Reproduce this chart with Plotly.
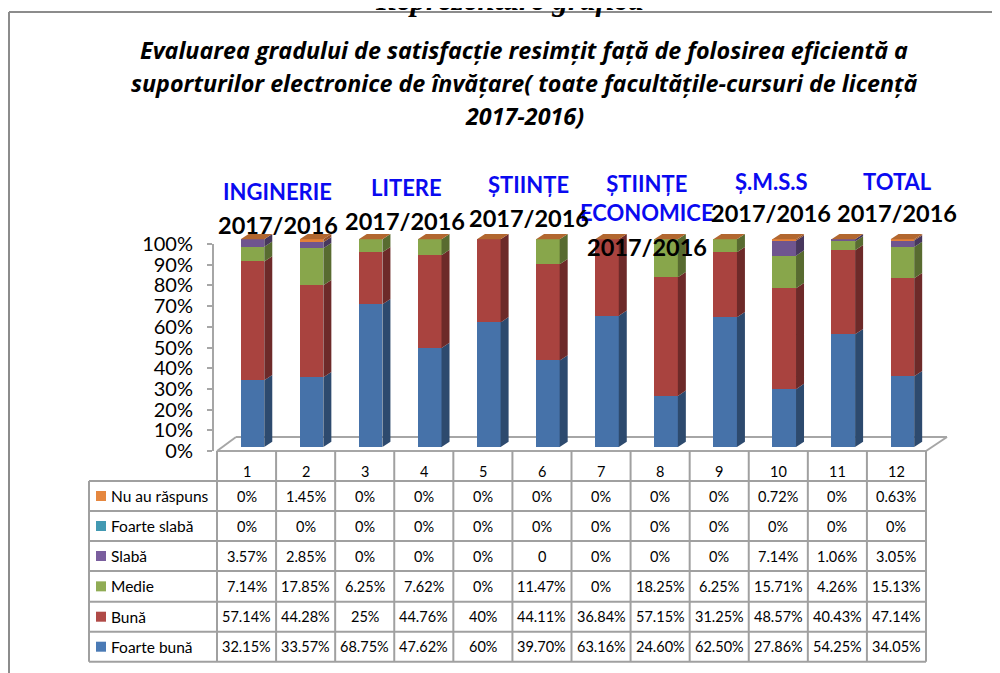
import plotly.graph_objects as go

W, H = 1000, 673
OFF = 8  # page body margin of the html page


def px(x):
    return (x - OFF) / W


def py(y):
    return 1 - (y - OFF) / H


# ---------------- DATA ----------------
columns = [str(i) for i in range(1, 13)]
series_names = ["Nu au răspuns", "Foarte slabă", "Slabă", "Medie", "Bună", "Foarte bună"]
nu_au_raspuns = ["0%", "1.45%", "0%", "0%", "0%", "0%", "0%", "0%", "0%", "0.72%", "0%", "0.63%"]
foarte_slaba = ["0%", "0%", "0%", "0%", "0%", "0%", "0%", "0%", "0%", "0%", "0%", "0%"]
slaba = ["3.57%", "2.85%", "0%", "0%", "0%", "0", "0%", "0%", "0%", "7.14%", "1.06%", "3.05%"]
medie = ["7.14%", "17.85%", "6.25%", "7.62%", "0%", "11.47%", "0%", "18.25%", "6.25%", "15.71%", "4.26%", "15.13%"]
buna = ["57.14%", "44.28%", "25%", "44.76%", "40%", "44.11%", "36.84%", "57.15%", "31.25%", "48.57%", "40.43%", "47.14%"]
foarte_buna = ["32.15%", "33.57%", "68.75%", "47.62%", "60%", "39.70%", "63.16%", "24.60%", "62.50%", "27.86%", "54.25%", "34.05%"]
y_ticks = [0, 10, 20, 30, 40, 50, 60, 70, 80, 90, 100]

group_labels = ["INGINERIE", "LITERE", "ȘTIINȚE", "ȘTIINȚE<br>ECONOMICE", "Ș.M.S.S", "TOTAL"]
year_label = "2017/2016"
title_lines = [
    "Evaluarea gradului de satisfacție resimțit față de folosirea eficientă a",
    "suporturilor electronice de învățare( toate facultățile-cursuri de licență",
    "2017-2016)",
]
top_caption = "Reprezentare grafică"

table_rows = [nu_au_raspuns, foarte_slaba, slaba, medie, buna, foarte_buna]


def num(s):
    return float(s.rstrip("%"))


# stacking order bottom -> top
stack_order = [
    ("Foarte bună", foarte_buna, "#4672A9", "#2D4A6E"),
    ("Bună", buna, "#A9433F", "#6D2A29"),
    ("Medie", medie, "#88A64B", "#586B30"),
    ("Slabă", slaba, "#6F558F", "#47375D"),
    ("Foarte slabă", foarte_slaba, "#3D9AB2", "#27657A"),
    ("Nu au răspuns", nu_au_raspuns, "#E3813A", "#94522A"),
]
legend_colors = {
    "Nu au răspuns": "#E5873F",
    "Foarte slabă": "#4299B2",
    "Slabă": "#7A5E9E",
    "Medie": "#90AC55",
    "Bună": "#B04A47",
    "Foarte bună": "#4A7AB5",
}
top_face_color = "#B2672F"

# ---------------- GEOMETRY ----------------
x_left, x_right = 217, 926
col_w = (x_right - x_left) / 12
bar_offset, bar_width = -0.10, 0.40
depth_x = 8 / col_w
y0_px, y100_px = 447, 239.3
unit_px = (y0_px - y100_px) / 100
depth_y = 5.3 / unit_px
y_max = 103
dom_top_px = y0_px - y_max * unit_px

fig = go.Figure()

xs = list(range(1, 13))
totals = [sum(num(r[i]) for _, r, _, _ in stack_order) for i in range(12)]

for name, vals, col, _ in stack_order:
    fig.add_trace(go.Bar(
        x=xs, y=[num(v) for v in vals], name=name,
        marker=dict(color=col, line=dict(width=0)),
        offset=bar_offset, width=bar_width, hoverinfo="skip", showlegend=False,
    ))

# side faces (3D depth) computed from normalized cumulative values
cum = [0.0] * 12
for name, vals, col, side in stack_order:
    sx, sy = [], []
    for i in range(12):
        h = num(vals[i]) / totals[i] * 100
        if h <= 0:
            continue
        xr = xs[i] + bar_offset + bar_width
        b, t = cum[i], cum[i] + h
        sx += [xr, xr + depth_x, xr + depth_x, xr, xr, None]
        sy += [b, b + depth_y, t + depth_y, t, b, None]
        cum[i] = t
    if sx:
        fig.add_trace(go.Scatter(x=sx, y=sy, mode="lines", fill="toself", fillcolor=side,
                                 line=dict(width=0), hoverinfo="skip", showlegend=False))

# top faces
tx, ty = [], []
for i in range(12):
    xl = xs[i] + bar_offset
    xr = xl + bar_width
    tx += [xl, xr, xr + depth_x, xl + depth_x, xl, None]
    ty += [100, 100, 100 + depth_y, 100 + depth_y, 100, None]
fig.add_trace(go.Scatter(x=tx, y=ty, mode="lines", fill="toself", fillcolor=top_face_color,
                         line=dict(width=0), hoverinfo="skip", showlegend=False))

# dummy trace for the labelled axis
fig.add_trace(go.Scatter(x=[None], y=[None], xaxis="x", yaxis="y2", showlegend=False, hoverinfo="skip"))

grey = "#A0A0A0"
shapes = []
# frame
shapes.append(dict(type="line", xref="paper", yref="paper", x0=px(9), x1=px(1010), y0=py(12), y1=py(12),
                   line=dict(color="#8C8C8C", width=2)))
shapes.append(dict(type="line", xref="paper", yref="paper", x0=px(9), x1=px(9), y0=py(12), y1=py(690),
                   line=dict(color="#8C8C8C", width=2)))
# floor
for (a, b, c, d) in [(217, 451, 926, 451), (236, 437, 947, 437), (217, 451, 236, 437), (926, 451, 947, 437)]:
    shapes.append(dict(type="line", xref="paper", yref="paper", x0=px(a), y0=py(b), x1=px(c), y1=py(d),
                       line=dict(color="#A6A6A6", width=2), layer="below"))
# table grid
row_edges = [481, 511, 541, 571, 601.7, 631.7, 661.7]
for ry in row_edges:
    shapes.append(dict(type="line", xref="paper", yref="paper", x0=px(89), x1=px(926), y0=py(ry), y1=py(ry),
                       line=dict(color=grey, width=2)))
shapes.append(dict(type="line", xref="paper", yref="paper", x0=px(89), x1=px(89), y0=py(481), y1=py(661.7),
                   line=dict(color=grey, width=2)))
for k in range(13):
    xx = x_left + k * col_w
    shapes.append(dict(type="line", xref="paper", yref="paper", x0=px(xx), x1=px(xx), y0=py(451), y1=py(661.7),
                       line=dict(color=grey, width=2)))

annotations = []
body_font = "Lato"
# header numbers
for i, c in enumerate(columns):
    annotations.append(dict(x=xs[i], xref="x", y=py(471), yref="paper", text=c, showarrow=False,
                            font=dict(family=body_font, size=14.5, color="black"), xanchor="center",
                            yanchor="middle"))
# rows
for r, (name, vals) in enumerate(zip(series_names, table_rows)):
    yc = (row_edges[r] + row_edges[r + 1]) / 2
    shapes.append(dict(type="rect", xref="paper", yref="paper", x0=px(96), x1=px(106), y0=py(yc - 5), y1=py(yc + 5),
                       fillcolor=legend_colors[name], line=dict(width=0)))
    annotations.append(dict(x=px(109), xref="paper", y=py(yc), yref="paper", text=name, showarrow=False,
                            font=dict(family=body_font, size=15.5, color="black"), xanchor="left",
                            yanchor="middle"))
    for i, v in enumerate(vals):
        annotations.append(dict(x=xs[i], xref="x", y=py(yc), yref="paper", text=v, showarrow=False,
                                font=dict(family=body_font, size=14.5, color="black"),
                                xanchor="center", yanchor="middle"))

# group labels
grp_pos = [(277, 192), (406, 188), (528, 185), (647, 198), (771, 182), (897, 182)]
yr_pos = [(278, 225), (405, 221), (529, 218), (647, 247), (771, 213), (897, 213)]
for (gx, gy), g in zip(grp_pos, group_labels):
    annotations.append(dict(x=px(gx), y=py(gy), xref="paper", yref="paper", text="<b>%s</b>" % g, showarrow=False,
                            font=dict(family=body_font, size=22, color="#0A0AF0"), xanchor="center",
                            yanchor="middle"))
for (gx, gy) in yr_pos:
    annotations.append(dict(x=px(gx), y=py(gy), xref="paper", yref="paper", text="<b>%s</b>" % year_label,
                            showarrow=False, font=dict(family=body_font, size=23.5, color="black"),
                            xanchor="center", yanchor="middle"))

# title
for ln, ty_ in zip(title_lines, [50, 83, 116]):
    annotations.append(dict(x=px(524), y=py(ty_), xref="paper", yref="paper", text="<b><i>%s</i></b>" % ln,
                            showarrow=False, font=dict(family="Open Sans", size=23.3, color="black"),
                            xanchor="center", yanchor="middle"))
annotations.append(dict(x=px(509), y=py(-1), xref="paper", yref="paper", text="<b><i>%s</i></b>" % top_caption,
                        showarrow=False, font=dict(family="Liberation Serif", size=31, color="black"),
                        xanchor="center", yanchor="middle"))

fig.update_layout(
    width=W, height=H, margin=dict(l=0, r=0, t=0, b=0, autoexpand=False),
    paper_bgcolor="white", plot_bgcolor="rgba(0,0,0,0)",
    barmode="stack", barnorm="percent", bargap=0,
    showlegend=False,
    xaxis=dict(domain=[px(x_left), px(x_right)], range=[0.5, 12.5], showticklabels=False, showgrid=False,
               zeroline=False, showline=False, ticks="", automargin=False),
    yaxis=dict(domain=[py(y0_px), py(dom_top_px)], range=[0, y_max], visible=False, showgrid=False,
               automargin=False),
    yaxis2=dict(domain=[py(451), py(244)], range=[0, 100], anchor="free", position=px(213), side="left",
                tickvals=y_ticks, ticktext=["%d%%" % t for t in y_ticks], showline=True,
                linecolor="#A6A6A6", linewidth=2, ticks="outside", ticklen=5, tickcolor="#A6A6A6",
                tickwidth=2, showgrid=False, zeroline=False, automargin=False,
                tickfont=dict(family=body_font, size=20, color="black"), ticklabelstandoff=10),
    shapes=shapes, annotations=annotations,
)

fig.write_html("out.html")
